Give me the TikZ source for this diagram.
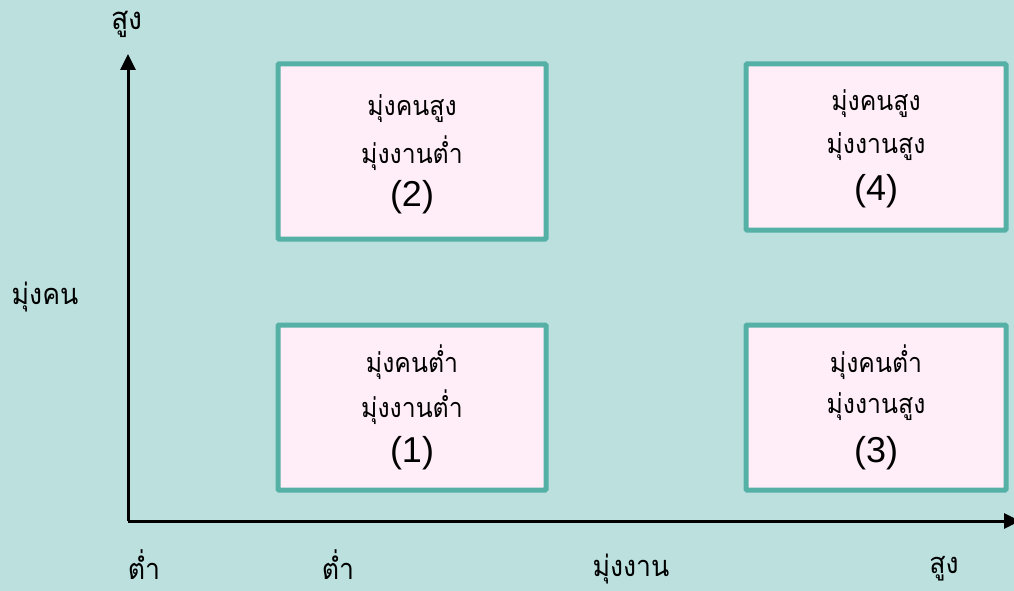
\documentclass[tikz,border=0pt]{standalone}
\usepackage{fontspec}
\setmainfont{Liberation Sans}
\newfontfamily\thaifont[Script=Thai,FakeStretch=0.92]{Loma}
\usetikzlibrary{arrows.meta}
\definecolor{bgc}{HTML}{BBE0DE}
\definecolor{bordc}{HTML}{55B0A6}
\definecolor{boxfill}{HTML}{FFEEF8}
\tikzset{
  quad/.style={draw=bordc, fill=boxfill, line width=5pt, rounded corners=1pt},
  th/.style={font=\thaifont\fontsize{27}{30}\selectfont, inner sep=0pt, anchor=center},
  lab/.style={font=\thaifont\fontsize{29}{32}\selectfont, inner sep=0pt, anchor=center},
  lowlab/.style={lab, anchor=base, text depth=0pt},
  num/.style={font=\fontsize{36}{40}\selectfont, inner sep=0pt, anchor=center},
  axis/.style={line width=3pt, -{Triangle[length=16pt,width=15pt]}},
}
\begin{document}
\begin{tikzpicture}[x=1pt,y=-1pt]
\fill[bgc] (0,0) rectangle (1014,591);
\useasboundingbox (0,0) rectangle (1014,591);
% boxes
\draw[quad] (278,64) rectangle (546,239);
\draw[quad] (746,64) rectangle (1006,230);
\draw[quad] (278,325) rectangle (546,490);
\draw[quad] (746,325) rectangle (1006,490);
% box texts
\node[th] (b2a) at (412,109) {มุ่งคนสูง};
\node[th] (b2b) at (412,153) {มุ่งงานต่ำ};
\node[num] (b2c) at (412,197) {(2)};
\node[th] (b4a) at (876,104) {มุ่งคนสูง};
\node[th] (b4b) at (876,147) {มุ่งงานสูง};
\node[num] (b4c) at (876,191) {(4)};
\node[th] (b1a) at (412,362) {มุ่งคนต่ำ};
\node[th] (b1b) at (412,407) {มุ่งงานต่ำ};
\node[num] (b1c) at (412,453) {(1)};
\node[th] (b3a) at (876,362) {มุ่งคนต่ำ};
\node[th] (b3b) at (876,407) {มุ่งงานสูง};
\node[num] (b3c) at (876,453) {(3)};
% axes
\coordinate (origin) at (128,521);
\coordinate (ytop) at (128,54);
\coordinate (xend) at (1020,521);
\draw[axis] (origin) -- (ytop);
\draw[axis] (origin) -- (xend);
% axis labels
\node[lab, font=\thaifont\fontsize{31}{34}\selectfont] (ylab) at (127,24) {สูง};
\node[lab] (ymid) at (45,297) {มุ่งคน};
\node[lowlab] (xl1) at (144,579) {ต่ำ};
\node[lowlab] (xl2) at (338,579) {ต่ำ};
\node[lab] (xl3) at (631,569) {มุ่งงาน};
\node[lab] (xl4) at (944,569) {สูง};
\end{tikzpicture}
\end{document}
